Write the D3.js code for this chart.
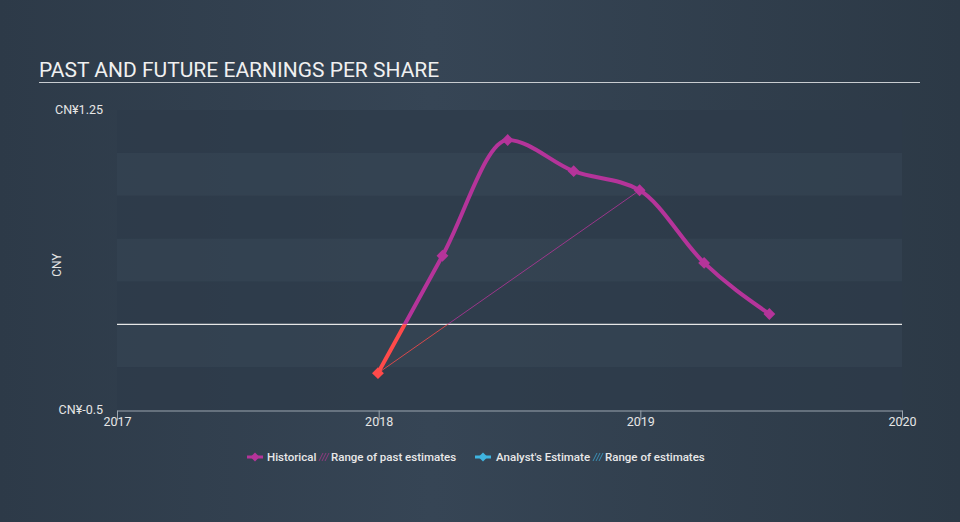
<!DOCTYPE html>
<html><head><meta charset="utf-8">
<script src="https://cdn.jsdelivr.net/npm/d3@7"></script>
<style>body{margin:0;background:#333f4d;}svg{display:block;font-family:Roboto,"Open Sans",sans-serif;}</style>
</head><body>
<script>
const dates = ["2017-12-31","2018-03-31","2018-06-30","2018-09-30","2018-12-31","2019-03-31","2019-06-30"];
const eps = [-0.285, 0.40, 1.075, 0.893, 0.782, 0.358, 0.06];
const pastEstimateDates = ["2017-12-31","2018-12-31"];
const pastEstimateValues = [-0.285, 0.782];
const yTicks = [-0.5, 1.25];
const xTicks = ["2017-01-01","2018-01-01","2019-01-01","2020-01-01"];
const bands = [1.0, 0.5, 0.0, -0.5];
const legendItems = ["Historical","Range of past estimates","Analyst's Estimate","Range of estimates"];

const W=960,H=522;
const svg=d3.select("body").append("svg").attr("width",W).attr("height",H);
const defs=svg.append("defs");
const bg=defs.append("linearGradient").attr("id","bg").attr("x1","0").attr("x2","1").attr("y1","0").attr("y2","0");
bg.append("stop").attr("offset","0").attr("stop-color","#2d3a48");
bg.append("stop").attr("offset","0.45").attr("stop-color","#364555");
bg.append("stop").attr("offset","1").attr("stop-color","#2c3946");
svg.append("rect").attr("width",W).attr("height",H).attr("fill","url(#bg)");

const parse=d3.timeParse("%Y-%m-%d");
const x=d3.scaleTime().domain([parse("2017-01-01"),parse("2020-01-01")]).range([117,902]);
const y=d3.scaleLinear().domain([-0.5,1.25]).range([410,110]);

// bands
const step=0.25;
svg.append("g").selectAll("rect").data(d3.range(-0.5,1.25,step)).join("rect")
  .attr("x",117).attr("width",785)
  .attr("y",d=>y(d+step)).attr("height",d=>y(d)-y(d+step))
  .attr("fill",d=>bands.some(b=>Math.abs(b-d)<1e-9)?"#2e3b4a":"#344352")
  .attr("opacity",0.75);

// title
svg.append("text").attr("x",39).attr("y",77).attr("fill","#f0f0f0").attr("font-size",21).text("PAST AND FUTURE EARNINGS PER SHARE");
svg.append("line").attr("x1",39).attr("x2",920).attr("y1",82.5).attr("y2",82.5).attr("stroke","#c8ccd0").attr("stroke-width",1);

// y labels
svg.append("g").selectAll("text").data(yTicks).join("text")
  .attr("x",103).attr("y",d=>y(d)+4).attr("text-anchor","end").attr("fill","#e6e6e6").attr("font-size",12.5)
  .text(d=>"CN¥"+d);
svg.append("text").attr("transform","translate(61,265) rotate(-90)").attr("text-anchor","middle").attr("fill","#e6e6e6").attr("font-size",12).text("CNY");

// x axis
const xa=svg.append("g").attr("transform","translate(0,410.5)")
  .call(d3.axisBottom(x).tickValues(xTicks.map(parse)).tickFormat(d3.timeFormat("%Y")).tickSize(10).tickSizeOuter(0));
xa.select(".domain").attr("stroke","#9aa4ae");
xa.selectAll(".tick line").attr("stroke","#9aa4ae");
xa.selectAll(".tick text").attr("fill","#e6e6e6").attr("font-size",12.5).attr("y",9).attr("dy","0.55em").attr("font-family","Roboto,sans-serif");

// zero line
svg.append("line").attr("x1",117).attr("x2",902).attr("y1",y(0)).attr("y2",y(0)).attr("stroke","#e6e6e6").attr("stroke-width",1.2);

// clip regions for pos/neg coloring
defs.append("clipPath").attr("id","pos").append("rect").attr("x",0).attr("y",0).attr("width",W).attr("height",y(0));
defs.append("clipPath").attr("id","neg").append("rect").attr("x",0).attr("y",y(0)).attr("width",W).attr("height",H-y(0));

const pts=dates.map((d,i)=>[x(parse(d)),y(eps[i])]);
const line=d3.line().curve(d3.curveMonotoneX);
const ep=pastEstimateDates.map((d,i)=>[x(parse(d)),y(pastEstimateValues[i])]);

[["pos","#b5349a"],["neg","#ff4a4a"]].forEach(([c,col])=>{
  const g=svg.append("g").attr("clip-path",`url(#${c})`);
  g.append("path").attr("d",d3.line()(ep)).attr("fill","none").attr("stroke",col).attr("stroke-width",1).attr("opacity",0.8);
  g.append("path").attr("d",line(pts)).attr("fill","none").attr("stroke",col).attr("stroke-width",4);
  g.selectAll("path.m").data(pts).join("path").attr("class","m")
    .attr("d",d3.symbol(d3.symbolSquare,70)())
    .attr("transform",d=>`translate(${d[0]},${d[1]}) rotate(45)`)
    .attr("fill",col);
});

// legend
const lg=svg.append("g").attr("font-size",11.5).attr("font-weight",500).attr("fill","#e8e8e8");
function marker(cx,col){
  lg.append("line").attr("x1",cx-8).attr("x2",cx+8).attr("y1",457).attr("y2",457).attr("stroke",col).attr("stroke-width",3);
  lg.append("path").attr("d",d3.symbol(d3.symbolSquare,40)()).attr("transform",`translate(${cx},457) rotate(45)`).attr("fill",col);
}
function hatch(hx,col){
  for(let k=0;k<3;k++) lg.append("line").attr("x1",hx+k*3).attr("x2",hx+k*3+4).attr("y1",461).attr("y2",453).attr("stroke",col).attr("stroke-width",1);
}
marker(255,"#b5349a");
lg.append("text").attr("x",267).attr("y",461).text(legendItems[0]);
hatch(319,"#8e3a80");
lg.append("text").attr("x",331).attr("y",461).text(legendItems[1]);
marker(483,"#3fb4e0");
lg.append("text").attr("x",496).attr("y",461).text(legendItems[2]);
hatch(593,"#3b8fb4");
lg.append("text").attr("x",605).attr("y",461).text(legendItems[3]);
</script>
</body></html>
